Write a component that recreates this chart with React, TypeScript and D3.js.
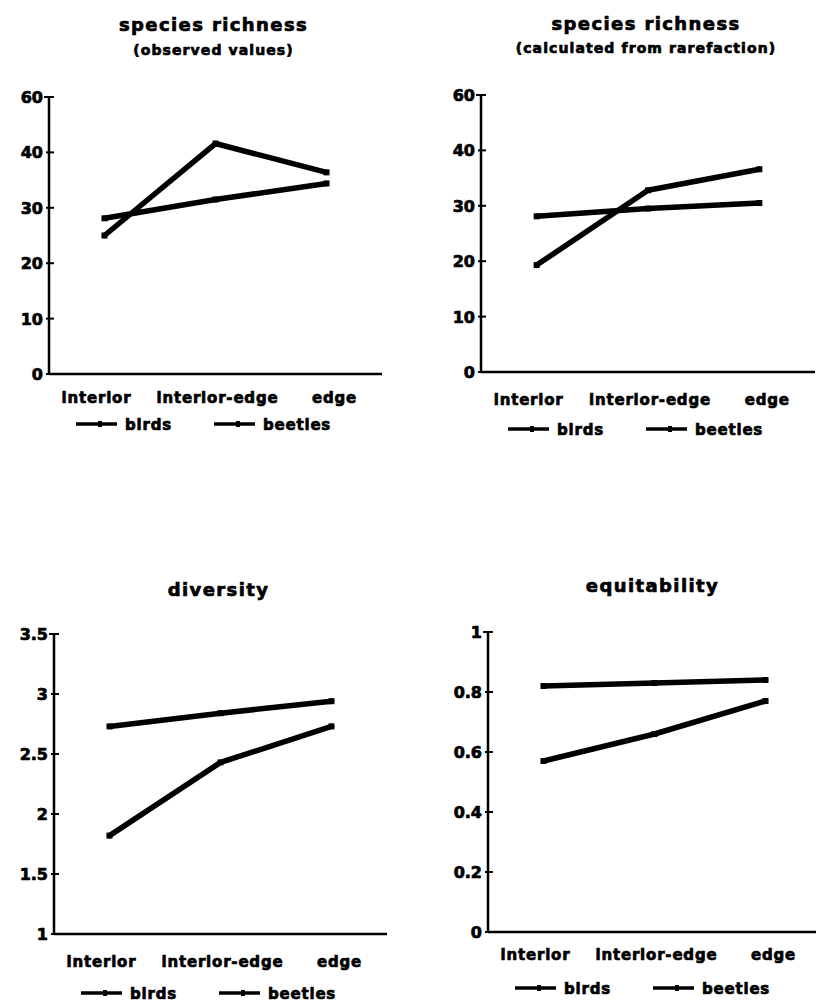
import React, { useRef, useEffect } from 'react';
import * as d3 from 'd3';

const categories = ["interior", "interior-edge", "edge"];
const seriesNames = ["birds", "beetles"];

// species richness (observed values)
const richObservedBirds = [28.1, 31.5, 34.4];
const richObservedBeetles = [25.0, 41.6, 36.4];
// species richness (calculated from rarefaction)
const richRarefiedBirds = [28.1, 29.5, 30.5];
const richRarefiedBeetles = [19.3, 32.8, 36.6];
// diversity
const diversityBirds = [2.73, 2.84, 2.94];
const diversityBeetles = [1.82, 2.43, 2.73];
// equitability
const equitBirds = [0.82, 0.83, 0.84];
const equitBeetles = [0.57, 0.66, 0.77];

// tick labels as printed (top richness tick reads "60")
const richTicks = [0, 10, 20, 30, 40, 50];
const richTickLabels = ["0", "10", "20", "30", "40", "60"];
const diversityTicks = [1, 1.5, 2, 2.5, 3, 3.5];
const diversityTickLabels = ["1", "1.5", "2", "2.5", "3", "3.5"];
const equitTicks = [0, 0.2, 0.4, 0.6, 0.8, 1];
const equitTickLabels = ["0", "0.2", "0.4", "0.6", "0.8", "1"];

const FONT = "'DejaVu Sans', 'Liberation Sans', sans-serif";

type Panel = {
  title: string[];
  titleY: number[];
  left: number; right: number; top: number; bottom: number;
  ticks: number[]; tickLabels: string[];
  birds: number[]; beetles: number[];
  catY: number; legendY: number;
};

const panels: Panel[] = [
  {
    title: ["species richness", "(observed values)"], titleY: [31, 55],
    left: 49, right: 382, top: 97, bottom: 374,
    ticks: richTicks, tickLabels: richTickLabels,
    birds: richObservedBirds, beetles: richObservedBeetles,
    catY: 403, legendY: 430,
  },
  {
    title: ["species richness", "(calculated from rarefaction)"], titleY: [30, 53],
    left: 481, right: 815, top: 95, bottom: 372,
    ticks: richTicks, tickLabels: richTickLabels,
    birds: richRarefiedBirds, beetles: richRarefiedBeetles,
    catY: 405, legendY: 435,
  },
  {
    title: ["diversity"], titleY: [596],
    left: 54, right: 387, top: 634, bottom: 934,
    ticks: diversityTicks, tickLabels: diversityTickLabels,
    birds: diversityBirds, beetles: diversityBeetles,
    catY: 967, legendY: 999,
  },
  {
    title: ["equitability"], titleY: [592],
    left: 488, right: 821, top: 632, bottom: 932,
    ticks: equitTicks, tickLabels: equitTickLabels,
    birds: equitBirds, beetles: equitBeetles,
    catY: 960, legendY: 994,
  },
];

// heavy scanned-looking text
const boldText = (sel: any, size: number, spacing: number) =>
  sel.style("font-family", FONT)
    .style("font-weight", "bold")
    .style("font-size", `${size}px`)
    .style("letter-spacing", `${spacing}px`)
    .attr("stroke", "#000")
    .attr("stroke-width", 0.7)
    .attr("fill", "#000");

const App = () => {
  const svgRef = useRef<SVGSVGElement>(null);

  useEffect(() => {
    const svg = d3.select(svgRef.current);
    svg.selectAll("*").remove();

    panels.forEach(p => {
      const g = svg.append("g");
      const x = d3.scalePoint<string>().domain(categories).range([p.left, p.right]).padding(0.5);
      const y = d3.scaleLinear()
        .domain([p.ticks[0], p.ticks[p.ticks.length - 1]])
        .range([p.bottom, p.top]);

      // titles
      const cx = (p.left + p.right) / 2 - 2;
      p.title.forEach((t, i) => {
        boldText(
          g.append("text")
            .attr("x", cx).attr("y", p.titleY[i])
            .attr("text-anchor", "middle")
            .text(t),
          i === 0 ? 18 : 14,
          i === 0 ? 1.4 : 1.1
        );
      });

      // axes
      g.append("line")
        .attr("x1", p.left).attr("x2", p.left)
        .attr("y1", p.top).attr("y2", p.bottom)
        .attr("stroke", "#000").attr("stroke-width", 2.5);
      g.append("line")
        .attr("x1", p.left).attr("x2", p.right)
        .attr("y1", p.bottom).attr("y2", p.bottom)
        .attr("stroke", "#000").attr("stroke-width", 2.5);

      p.ticks.forEach((t, i) => {
        const isTop = i === p.ticks.length - 1;
        g.append("line")
          .attr("x1", p.left - (isTop ? 5 : 3)).attr("x2", p.left + 5)
          .attr("y1", y(t)).attr("y2", y(t))
          .attr("stroke", "#000").attr("stroke-width", 2);
        boldText(
          g.append("text")
            .attr("x", p.left - 6).attr("y", y(t) + 6)
            .attr("text-anchor", "end")
            .text(p.tickLabels[i]),
          16, 0
        );
      });

      // category labels
      const catShift = [-8, 2, 8];
      categories.forEach((c, i) => {
        boldText(
          g.append("text")
            .attr("x", (x(c) as number) + catShift[i]).attr("y", p.catY)
            .attr("text-anchor", "middle")
            .text(c),
          15, 0.8
        );
      });

      // series lines
      const line = d3.line<number>()
        .x((_, i) => x(categories[i]) as number)
        .y(d => y(d));
      [p.birds, p.beetles].forEach(vals => {
        g.append("path")
          .attr("d", line(vals))
          .attr("fill", "none")
          .attr("stroke", "#000")
          .attr("stroke-width", 5.5)
          .attr("stroke-linejoin", "round")
          .attr("stroke-linecap", "round");
        g.selectAll(null)
          .data(vals)
          .enter()
          .append("rect")
          .attr("x", (_, i) => (x(categories[i]) as number) - 3)
          .attr("y", d => y(d) - 3)
          .attr("width", 6).attr("height", 6)
          .attr("fill", "#000");
      });

      // legend
      const legendOffsets = [27, 165];
      seriesNames.forEach((name, i) => {
        const lx = p.left + legendOffsets[i];
        g.append("line")
          .attr("x1", lx).attr("x2", lx + 41)
          .attr("y1", p.legendY - 6).attr("y2", p.legendY - 6)
          .attr("stroke", "#000").attr("stroke-width", 3.5);
        g.append("rect")
          .attr("x", lx + 22).attr("y", p.legendY - 9)
          .attr("width", 4).attr("height", 6)
          .attr("fill", "#000");
        boldText(
          g.append("text")
            .attr("x", lx + 49).attr("y", p.legendY)
            .text(name),
          15, 0.8
        );
      });
    });
  }, []);

  return (
    <svg
      ref={svgRef}
      width={816}
      height={1003}
      style={{ position: "absolute", left: 0, top: 0, background: "#fff" }}
    ></svg>
  );
};

export default App;
